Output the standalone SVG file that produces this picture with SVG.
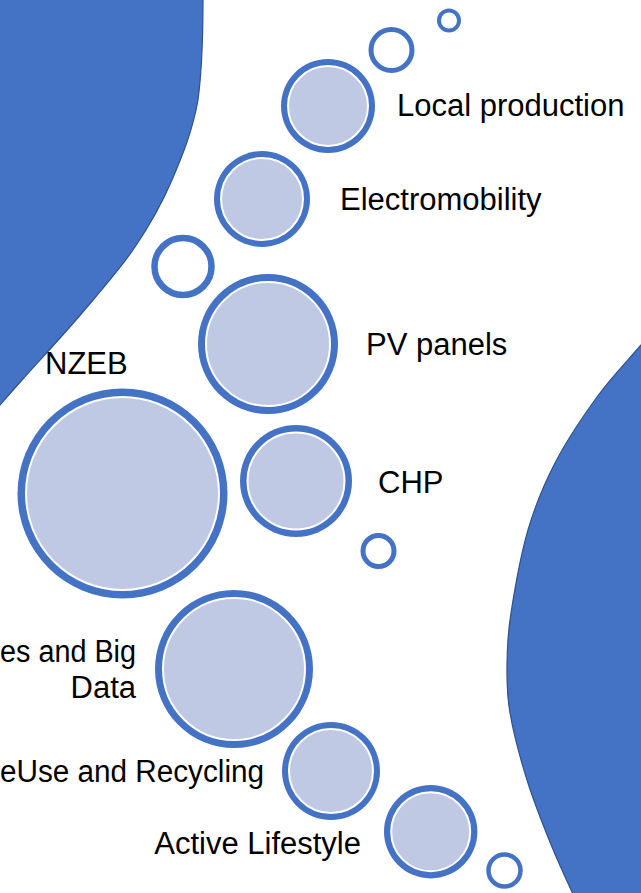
<svg xmlns="http://www.w3.org/2000/svg" width="641" height="893" viewBox="0 0 641 893">
<style>
.bg{fill:#4472C4;stroke:#2F528F;stroke-width:1.2}
.ring{fill:none;stroke:#4472C4}
.outer{fill:#4472C4}
.inner{fill:#BFC9E3;stroke:#FFFFFF;stroke-width:2}
.lbl{font-family:"Liberation Sans",Arial,sans-serif;font-size:31px;fill:#000000}
</style>
<rect width="641" height="893" fill="#FFFFFF"/>
<g id="bg-topleft"><path class="bg" d="M-2,-2 L203,-2 L203,0 C203,33 202,70 198,100 C192.8,130 182.5,155.5 172,180 C161.5,204.5 150,224.8 135,247 C120,269.2 100.8,290.8 82,313 C63.2,335.2 36.7,363.5 22,380 C7.3,396.5 3.3,401.3 -6,412 Z"/></g>
<g id="bg-right"><path class="bg" d="M641,345 C626.3,362.3 611.3,377.3 597,397 C582.7,416.7 566.5,440.8 555,463 C543.5,485.2 535.3,505 528,530 C520.7,555 514.5,590.5 511,613 C507.5,635.5 507.2,648.3 507,665 C506.8,681.7 506.7,693.8 510,713 C513.3,732.2 520,757.7 527,780 C534,802.3 543.5,826.2 552,847 C560.5,867.8 569.3,885.7 578,905 L643,905 L643,343 Z"/></g>

<g id="ring-1"><circle class="ring" cx="449" cy="20.5" r="10" stroke-width="4"/></g>
<g id="ring-2"><circle class="ring" cx="391.5" cy="50" r="20.5" stroke-width="5"/></g>
<g id="ring-3"><circle class="ring" cx="183" cy="266.5" r="28.5" stroke-width="6.5"/></g>
<g id="ring-4"><circle class="ring" cx="378.5" cy="551" r="15.5" stroke-width="5"/></g>
<g id="ring-5"><circle class="ring" cx="504.5" cy="870.5" r="16" stroke-width="4.5"/></g>

<g id="local-production">
<circle class="outer" cx="328" cy="106" r="47"/>
<circle class="inner" cx="328" cy="106" r="40"/>
<text class="lbl" x="397" y="116">Local production</text>
</g>
<g id="electromobility">
<circle class="outer" cx="262" cy="199" r="48"/>
<circle class="inner" cx="262" cy="199" r="41"/>
<text class="lbl" x="340" y="210">Electromobility</text>
</g>
<g id="pv-panels">
<circle class="outer" cx="268" cy="344" r="70"/>
<circle class="inner" cx="268" cy="344" r="62"/>
<text class="lbl" x="366" y="355">PV panels</text>
</g>
<g id="nzeb">
<circle class="outer" cx="122.5" cy="493.5" r="105"/>
<circle class="inner" cx="122.5" cy="493.5" r="96.5"/>
<text class="lbl" x="45" y="374">NZEB</text>
</g>
<g id="chp">
<circle class="outer" cx="296" cy="481" r="56"/>
<circle class="inner" cx="296" cy="481" r="48.5"/>
<text class="lbl" x="378" y="493">CHP</text>
</g>
<g id="big-data">
<circle class="outer" cx="234" cy="669" r="79"/>
<circle class="inner" cx="234" cy="669" r="71"/>
<text class="lbl" x="0" y="662" textLength="136" lengthAdjust="spacingAndGlyphs">es and Big</text>
<text class="lbl" x="136" y="698" text-anchor="end">Data</text>
</g>
<g id="reuse-recycling">
<circle class="outer" cx="331" cy="771" r="49"/>
<circle class="inner" cx="331" cy="771" r="42"/>
<text class="lbl" x="0" y="782" textLength="264" lengthAdjust="spacingAndGlyphs">eUse and Recycling</text>
</g>
<g id="active-lifestyle">
<circle class="outer" cx="430.7" cy="831.7" r="46.7"/>
<circle class="inner" cx="430.7" cy="831.7" r="39.5"/>
<text class="lbl" x="361" y="854" text-anchor="end">Active Lifestyle</text>
</g>
</svg>
